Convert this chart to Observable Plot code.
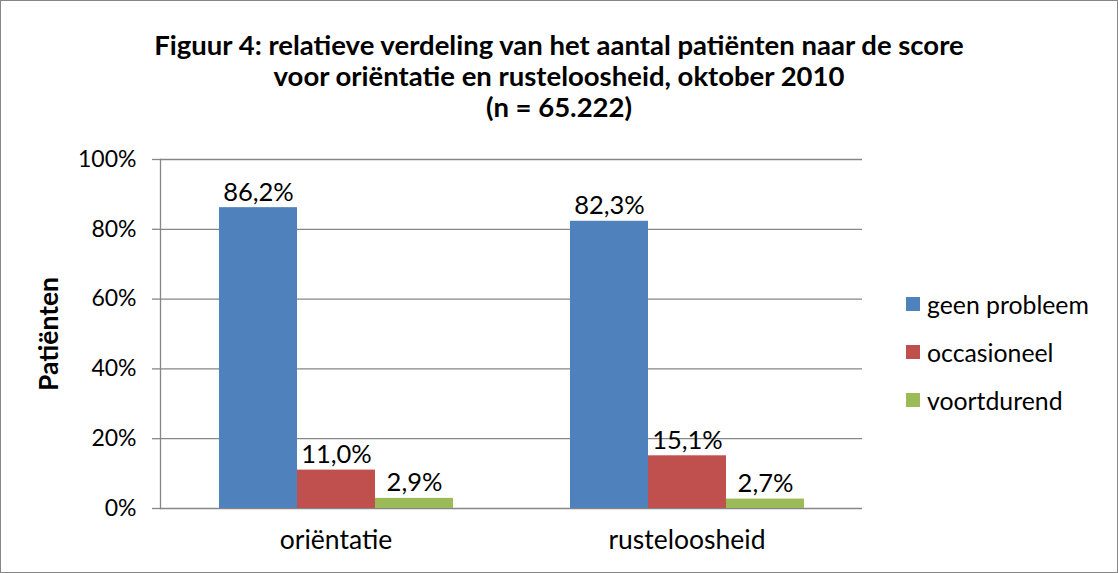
<!DOCTYPE html>
<html>
<head>
<meta charset="utf-8">
<script src="https://cdn.jsdelivr.net/npm/d3@7"></script>
<script src="https://cdn.jsdelivr.net/npm/@observablehq/plot@0.6"></script>
<style>
  html, body { margin: 0; padding: 0; background: #fff; }
  #wrap { position: relative; width: 1118px; height: 573px; overflow: hidden; font-family: Lato, "Open Sans", sans-serif; color: #000; }
  #border { position: absolute; left: 0; top: 0; width: 1118px; height: 573px; box-sizing: border-box; border: 1px solid #868686; pointer-events: none; }
  #title { position: absolute; left: 0; top: 29px; width: 1118px; text-align: center; font-weight: bold; font-size: 27.5px; line-height: 31px; }
  #chart { position: absolute; left: 0; top: 140px; }
  #legend { position: absolute; left: 906px; top: 280px; font-size: 24.8px; }
  .item { display: flex; align-items: center; height: 48px; }
  .sw { width: 14px; height: 14px; margin-right: 7px; }
  svg [aria-label="y-axis label"] { font-weight: bold; font-size: 26.5px; }
  svg [aria-label="fx-axis tick label"] { font-size: 26.5px; }
  svg [aria-label="text"] { font-size: 25.5px; }
</style>
</head>
<body>
<div id="wrap">
  <div id="title"></div>
  <div id="chart"></div>
  <div id="legend"></div>
  <div id="border"></div>
</div>
<script>
const titleLines = [
  "Figuur 4: relatieve verdeling van het aantal patiënten naar de score",
  "voor oriëntatie en rusteloosheid, oktober 2010",
  "(n = 65.222)"
];
const categories = ["oriëntatie", "rusteloosheid"];
const series = ["geen probleem", "occasioneel", "voortdurend"];
const valuesOrientatie = [86.2, 11.0, 2.9];
const valuesRusteloosheid = [82.3, 15.1, 2.7];
const colors = ["#4F81BD", "#C0504D", "#9BBB59"];
const yTicks = [0, 20, 40, 60, 80, 100];
const yLabel = "Patiënten";

const data = [];
[valuesOrientatie, valuesRusteloosheid].forEach((vals, ci) => {
  vals.forEach((v, si) => data.push({category: categories[ci], series: series[si], value: v}));
});
const fmt = v => v.toFixed(1).replace(".", ",") + "%";

document.getElementById("title").innerHTML = titleLines.map(t => `<div>${t}</div>`).join("");

const chart = Plot.plot({
  width: 1118,
  height: 433,
  marginLeft: 160,
  marginRight: 256,
  marginTop: 19,
  marginBottom: 65,
  style: {fontFamily: "Lato, 'Open Sans', sans-serif", fontSize: "23px", color: "#000", background: "transparent"},
  fx: {domain: categories, padding: 0, label: null},
  x: {domain: series, paddingInner: 0, paddingOuter: 0.74, axis: null},
  y: {domain: [0, 100]},
  color: {domain: series, range: colors},
  marks: [
    Plot.ruleY(yTicks, {stroke: "#868686", strokeWidth: 1.3, strokeOpacity: 1}),
    Plot.frame({anchor: "left", facetAnchor: "left", stroke: "#868686", strokeWidth: 1.3, strokeOpacity: 1}),
    Plot.barY(data, {fx: "category", x: "series", y: "value", fill: "series"}),
    Plot.text(data, {fx: "category", x: "series", y: "value", text: d => fmt(d.value), lineAnchor: "bottom", dy: -7, fill: "#000"}),
    Plot.axisY({ticks: yTicks, tickFormat: d => d + "%", tickSize: 8, tickPadding: 16, stroke: "#868686", strokeOpacity: 1, strokeWidth: 1.3, label: yLabel, labelAnchor: "center", labelOffset: 121, labelArrow: "none"}),
    Plot.axisFx({anchor: "bottom", tickSize: 0, tickPadding: 22, label: null})
  ]
});
document.getElementById("chart").appendChild(chart);

const legend = document.getElementById("legend");
series.forEach((s, i) => {
  const row = document.createElement("div");
  row.className = "item";
  row.innerHTML = `<div class="sw" style="background:${colors[i]}"></div><span>${s}</span>`;
  legend.appendChild(row);
});
</script>
</body>
</html>
